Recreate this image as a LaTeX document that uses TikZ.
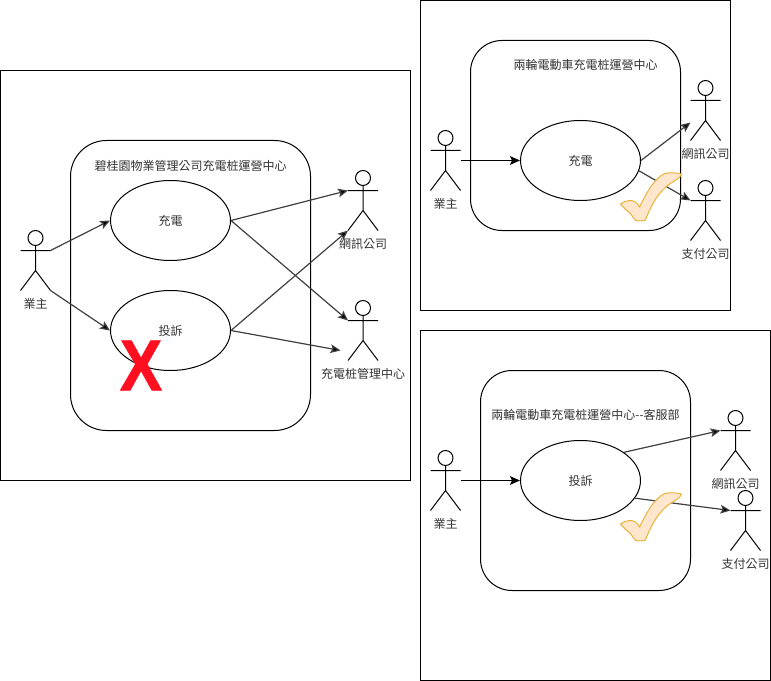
\documentclass[tikz,border=0pt]{standalone}
\usepackage{fontspec}
\usepackage{tikz}
\usetikzlibrary{arrows.meta,shapes.geometric}
\setmainfont{Noto Sans CJK TC}
\newfontfamily\crossfont{Liberation Sans Bold}[FakeBold=1.2]

\definecolor{okfill}{HTML}{FFE6CC}
\definecolor{okline}{HTML}{E8B33C}
\definecolor{crossred}{HTML}{FF0F1F}

\tikzset{
	frame/.style={draw=black, line width=0.75pt},
	center/.style={draw=black, line width=0.75pt, fill=white},
	usecase/.style={ellipse, draw=black, line width=0.75pt, fill=white, minimum width=90pt, minimum height=60pt, inner sep=0pt},
	head/.style={circle, draw=black, line width=0.75pt, minimum size=11.25pt, inner sep=0pt},
	label/.style={font=\fontsize{9}{11}\selectfont, text=black!80, inner sep=0pt},
	link/.style={-{Stealth[length=7.5pt,width=6.5pt,inset=1.5pt,fill=black]}, line width=0.9pt, draw=black!75},
	okmark/.style={fill=okfill, draw=okline, line width=0.75pt, line join=round}
}

% stick figure: name, centre x, top y, label, label y
\newcommand{\actor}[5]{
	\node (#1) [head] at (#2,#3+7.5) {};
	\coordinate (#1-larm) at (#2-15,#3+20);
	\coordinate (#1-rarm) at (#2+15,#3+20);
	\coordinate (#1-hip) at (#2,#3+40);
	\coordinate (#1-lfoot) at (#2-15,#3+60);
	\coordinate (#1-rfoot) at (#2+15,#3+60);
	\draw [line width=0.75pt] (#1) -- (#1-hip) (#1-larm) -- (#1-rarm) (#1-lfoot) -- (#1-hip) -- (#1-rfoot);
	\node (#1-label) [label] at (#2,#4) {#5};
}

% tick mark, shifted down by #1
\newcommand{\tick}[1]{
	\draw [okmark, yshift=-0.75pt*#1] (620,203.5) .. controls (624,200.5) and (631,198.5) .. (635,201.5)
		.. controls (637,203) and (638,205) .. (639,206.7)
		.. controls (644,197) and (648,188) .. (654,181.5)
		.. controls (659,176) and (662,173) .. (667,172.5)
		.. controls (672,172) and (677,172.5) .. (681,173.5)
		.. controls (680,178) and (672,181) .. (667,185)
		.. controls (660,191) and (656,197) .. (653,202)
		.. controls (650,207) and (647,214) .. (645,219.5)
		.. controls (642,220.5) and (638,220.5) .. (635,220)
		.. controls (632,216) and (630,213) .. (628,211.5)
		.. controls (625,209) and (622,206) .. (620,203.5) -- cycle;
}

\begin{document}
\begin{tikzpicture}[x=0.75pt, y=-0.75pt]
	\useasboundingbox (-0.5,-0.5) rectangle (770.5,680.5);

	% left frame
	\draw [frame] (0,70) rectangle (410,480);
	\draw [center, rounded corners=27pt] (70,140) rectangle (310,430);
	\node (titleA) [label] at (190,165) {碧桂園物業管理公司充電桩運營中心};
	\node (chargeA) [usecase, label] at (170,220) {充電};
	\node (complainA) [usecase, label] at (170,330) {投訴};
	\actor{ownerA}{35}{230}{303}{業主}
	\actor{netA}{362.5}{170}{243}{網訊公司}
	\actor{pileA}{362.5}{300}{373}{充電桩管理中心}
	\coordinate (pileA-in) at (340,350);
	\draw [link] (ownerA-rarm) -- (chargeA.west);
	\draw [link] (ownerA-rfoot) -- (complainA.west);
	\draw [link] (chargeA.east) -- (netA-larm);
	\draw [link] (chargeA.east) -- (pileA-larm);
	\draw [link] (complainA.east) -- (netA-lfoot);
	\draw [link] (complainA.east) -- (pileA-in);
	\node (crossA) [font=\crossfont\fontsize{54}{54}\selectfont, text=crossred, inner sep=0pt, xscale=0.88] at (140.5,365) {X};

	% top right frame
	\draw [frame] (420,0) rectangle (730,310);
	\draw [center, rounded corners=23.6pt] (470,40) rectangle (680,230);
	\node (titleB) [label] at (585,64) {兩輪電動車充電桩運營中心};
	\node (chargeB) [usecase, label] at (580,160) {充電};
	\actor{ownerB}{445}{130}{203}{業主}
	\actor{netB}{705}{80}{153}{網訊公司}
	\actor{payB}{705}{180}{253}{支付公司}
	\coordinate (ownerB-out) at (460,160);
	\coordinate (netB-in) at (690,122);
	\draw [link, draw=black, line width=0.75pt] (ownerB-out) -- (chargeB.west);
	\draw [link] (chargeB.east) -- (netB-in);
	\draw [link] (chargeB.-10) -- (payB-larm);
	\tick{0}

	% bottom right frame
	\draw [frame] (420,330) rectangle (770,680);
	\draw [center, rounded corners=23.6pt] (480,370) rectangle (690,590);
	\node (titleC) [label] at (585,414) {兩輪電動車充電桩運營中心{-}{-}客服部};
	\node (complainC) [usecase, label] at (580,480) {投訴};
	\actor{ownerC}{445}{450}{523}{業主}
	\actor{netC}{735}{410}{483}{網訊公司}
	\actor{payC}{745}{490}{563}{支付公司}
	\coordinate (ownerC-out) at (460,480);
	\draw [link, draw=black, line width=0.75pt] (ownerC-out) -- (complainC.west);
	\draw [link] (complainC.33) -- (netC-larm);
	\draw [link] (complainC.-18) -- (payC-larm);
	\tick{320}
\end{tikzpicture}
\end{document}
